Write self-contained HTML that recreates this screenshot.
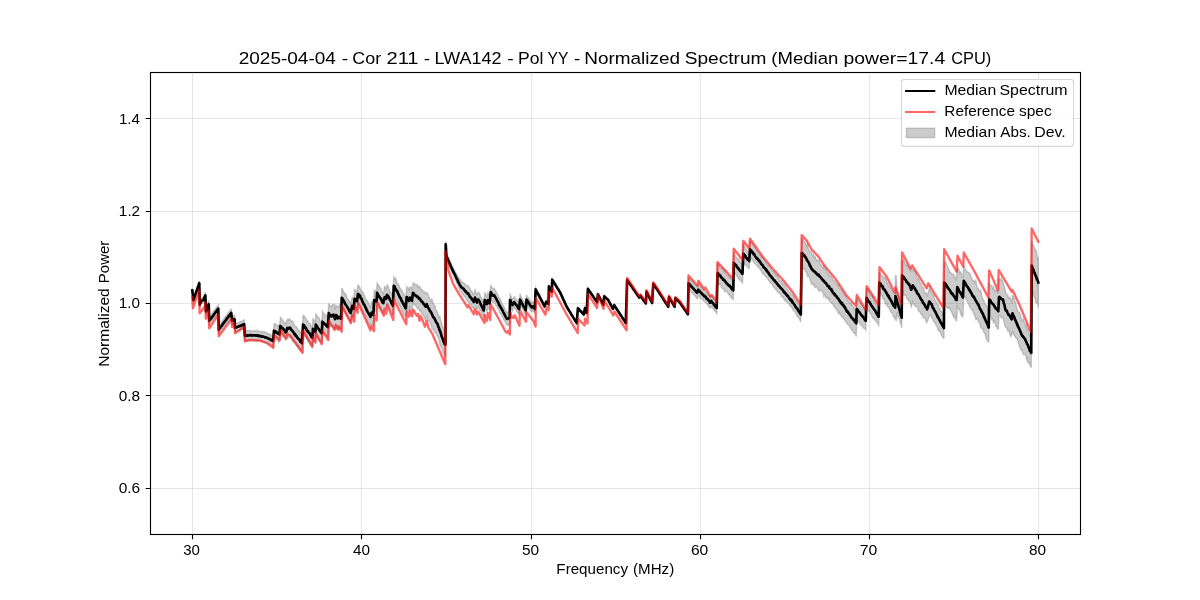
<!DOCTYPE html>
<html><head><meta charset="utf-8"><title>Normalized Spectrum</title>
<style>html,body{margin:0;padding:0;background:#fff}body{width:1200px;height:600px;overflow:hidden;font-family:"Liberation Sans",sans-serif}svg{display:block;will-change:transform}text{font-family:"Liberation Sans",sans-serif;fill:#000}</style></head><body>
<svg width="1200" height="600" viewBox="0 0 1200 600">
<rect width="1200" height="600" fill="#fff"/>
<path d="M192.5,72V534M361.5,72V534M531.5,72V534M700.5,72V534M869.5,72V534M1038.5,72V534" stroke="#b0b0b0" stroke-opacity="0.3" stroke-width="1.11" fill="none"/>
<path d="M150,118.5H1080M150,211.5H1080M150,303.5H1080M150,395.5H1080M150,488.5H1080" stroke="#b0b0b0" stroke-opacity="0.3" stroke-width="1.11" fill="none"/>
<clipPath id="c"><rect x="150" y="72" width="930" height="462"/></clipPath>
<g clip-path="url(#c)" fill="none" stroke-linejoin="round">
<path d="M192.3,288.43 L193.4,298.04 L194.24,295.36 L195.09,293.15 L195.93,290.48 L196.77,288.1 L197.61,285.78 L198.46,283.1 L199.3,280.9 L199.7,302.02 L200.35,300.54 L201,298.83 L201.77,298.16 L202.53,297.44 L203.3,297.35 L204,295.71 L204.7,293.88 L205.4,292.12 L205.9,308.28 L206.61,306.51 L207.32,304.2 L208.04,302.9 L208.75,300.46 L209.2,317.31 L210.03,316.25 L210.85,315.07 L211.68,313.71 L212.51,312.17 L213.34,311.58 L214.16,310.16 L214.99,309.02 L215.82,308.14 L216.65,306.9 L217.47,306.2 L218.3,305.1 L218.75,325.84 L219.53,324.41 L220.31,323.57 L221.09,322.62 L221.88,321.36 L222.66,320.42 L223.44,319.5 L224.22,318.06 L225,317.09 L225.78,316.41 L226.56,315.1 L227.34,314.1 L228.12,312.77 L228.91,311.85 L229.69,311.16 L230.47,309.56 L231.25,309.21 L232,316.57 L232.87,315.86 L233.73,315.91 L234.6,315.21 L235,324.37 L235.84,323.52 L236.67,323.1 L237.51,322.91 L238.35,322.32 L239.18,322.42 L240.02,321.77 L240.85,321.51 L241.69,321.17 L242.53,320.93 L243.36,320.27 L244.2,319.84 L244.8,331.02 L245.67,331.32 L246.53,330.66 L247.4,330.39 L248.27,330.71 L249.13,330.96 L250,330.14 L250.83,330.89 L251.67,330.89 L252.5,330.7 L253.33,331.07 L254.17,330.69 L255,330.49 L255.83,331.08 L256.67,331.07 L257.5,329.98 L258.33,331.38 L259.17,331.39 L260,331.11 L260.84,331.89 L261.68,331.75 L262.51,331.4 L263.35,332.04 L264.19,331.52 L265.02,332.09 L265.86,332.33 L266.7,333 L267.5,333.68 L268.3,333.54 L269.1,333.8 L269.9,334.08 L270.7,334.8 L271.5,335.68 L272.3,336.16 L273.1,334.91 L274,324.01 L274.77,323.49 L275.54,324.09 L276.31,325.09 L277.09,325.21 L277.86,326.17 L278.63,324.97 L279.4,327.59 L280.4,317.18 L281.2,317.94 L282,319.67 L282.8,319.88 L283.6,321.62 L284.4,322.54 L285.2,322.69 L286,323.79 L286.65,321.23 L287.3,319.43 L288.05,319.29 L288.8,320.13 L289.55,318.64 L290.3,320.15 L291.13,320.82 L291.96,320.65 L292.79,321.76 L293.61,322.81 L294.44,325.21 L295.27,326.33 L296.1,326.65 L296.93,327.34 L297.76,328.76 L298.59,330.84 L299.41,330.47 L300.24,331.83 L301.07,333.91 L301.9,334.72 L303.1,314.85 L303.88,316.88 L304.65,316.19 L305.43,318.24 L306.2,318.88 L306.98,321.27 L307.75,320.66 L308.52,322.84 L309.3,323.07 L310.07,323.56 L310.85,325.42 L311.62,326.58 L312.4,326.8 L312.9,318.76 L313.73,319.78 L314.57,320.68 L315.4,321.96 L315.8,313.94 L316.64,314.75 L317.49,316.47 L318.33,317.66 L319.17,317.71 L320.01,320.51 L320.86,322.77 L321.7,323.74 L322.5,311.22 L323.27,312.84 L324.04,313.2 L324.81,314.91 L325.59,315.45 L326.36,315.25 L327.13,316.48 L327.9,316.61 L328.75,303.17 L329.62,305.02 L330.5,306.73 L331.25,306.3 L332,305.47 L332.75,304.34 L333.5,304.49 L334.25,304.65 L335,309.46 L336,305.1 L336.75,306.48 L337.5,306.38 L338.5,307.26 L339.5,304.33 L340.38,306.01 L341.25,308.32 L341.7,288.6 L342.53,288.85 L343.35,291.79 L344.18,292.5 L345.01,294.48 L345.84,293.73 L346.66,296.56 L347.49,298.95 L348.32,299.18 L349.15,301.61 L349.97,301.63 L350.8,304.28 L352.1,297.33 L352.93,297.27 L353.75,299.59 L354.6,288.87 L355.43,290.96 L356.27,291.02 L357.1,291.65 L357.9,284.42 L358.6,286.4 L359.3,286.21 L360,288.07 L360.8,289.65 L361.6,290.48 L362.4,291.85 L363.2,292.81 L364,294.99 L364.8,296.2 L365.6,298.99 L366.4,300.05 L367.2,300.75 L368,301.64 L368.8,303.48 L369.6,305.21 L370.4,306.99 L371.05,305.71 L371.7,300.77 L372.5,303.37 L373.3,305.23 L374.2,290.37 L374.97,290.26 L375.73,291.41 L376.5,291.17 L377.1,283.12 L377.88,283.9 L378.65,286.33 L379.43,286.02 L380.2,288.84 L380.98,288.52 L381.75,290.98 L382.53,292.22 L383.3,293.77 L383.95,290.42 L384.6,285.83 L385.4,288 L386.2,288.53 L387.1,284.86 L387.93,285.73 L388.76,288.13 L389.59,290.35 L390.41,292.02 L391.24,292.82 L392.07,295.3 L392.9,296.56 L393.75,276.6 L394.49,277.86 L395.23,279.59 L395.96,278.6 L396.7,281.3 L397.53,284.03 L398.35,283.95 L399.18,285.73 L400.01,288.34 L400.84,289.13 L401.66,290.03 L402.49,291.94 L403.32,293.23 L404.15,294.42 L404.97,297.31 L405.8,298.9 L406.7,286.58 L407.53,287.71 L408.37,288.04 L409.2,289.94 L410,286.89 L411,287.28 L412,290.24 L412.9,283.72 L413.66,282.99 L414.42,283.49 L415.18,284.53 L415.94,285.1 L416.7,285.02 L417.52,284.59 L418.34,287.57 L419.16,286.86 L419.98,286.5 L420.8,289.61 L421.63,289.24 L422.47,290.27 L423.3,291.67 L424.13,291.39 L424.97,292.82 L425.8,293.64 L426.7,292.5 L427.9,293.8 L428.7,296.15 L429.5,298.18 L430.3,299.6 L431.1,301.2 L431.9,299.09 L432.7,302.35 L433.5,303.61 L434.3,306.67 L435.1,305.96 L435.9,310.09 L436.7,310.4 L437.5,312.65 L438.29,314.52 L439.08,317.59 L439.87,316.39 L440.66,319.95 L441.44,322.33 L442.23,325.91 L443.02,326.73 L443.81,330.54 L444.6,331.65 L445.5,333.91 L445.7,241.32 L446.4,252.71 L447.16,254.83 L447.92,256.53 L448.69,258.09 L449.45,260 L450.21,261.6 L450.98,262.92 L451.74,264.67 L452.5,266.43 L453.33,268.21 L454.17,269.68 L455,271.32 L455.83,273.05 L456.67,273.88 L457.5,275.8 L458.33,277.22 L459.17,278.54 L460,279.33 L460.83,281.03 L461.67,281.87 L462.5,281.74 L463.33,282.75 L464.17,283.51 L465,283.87 L465.82,285.22 L466.65,285.42 L467.48,285.42 L468.3,285.88 L469.08,287.36 L469.86,288.22 L470.64,290.36 L471.41,290.96 L472.19,291.78 L472.97,293.36 L473.75,294.51 L474.38,293.08 L475,288.98 L476,292.87 L477,294.67 L477.65,293.89 L478.3,292.07 L479.08,292.88 L479.86,293.75 L480.64,297.45 L481.41,297.82 L482.19,299.02 L482.97,301.78 L483.75,302.77 L484.8,292.2 L485.53,293.98 L486.27,295.67 L487,296.49 L487.9,292.72 L488.75,294.66 L489.6,296.91 L490.7,285.47 L491.43,286.16 L492.17,288.15 L492.9,288.73 L493.55,288.26 L494.2,288.16 L495.02,289.95 L495.84,290.46 L496.66,293.26 L497.48,294 L498.3,295.7 L499.12,298.15 L499.94,298.81 L500.76,300.49 L501.58,302.62 L502.4,304.32 L503.22,305.61 L504.04,307.02 L504.86,309.22 L505.68,310.4 L506.5,311.87 L507.25,312.57 L508,312.36 L508.85,311.99 L509.7,312.13 L510,294.4 L510.83,295.86 L511.67,297.9 L512.5,299.12 L513.35,298.32 L514.2,296.86 L515.03,297.52 L515.87,299.51 L516.7,299.85 L517.53,301.28 L518.37,302.32 L519.2,304.32 L520,293.64 L520.83,295.92 L521.66,297.81 L522.49,299.03 L523.31,301.11 L524.14,301.49 L524.97,303.67 L525.8,305.83 L526.5,294.69 L527.24,296.56 L527.99,297.45 L528.73,298.8 L529.47,298.83 L530.21,300.97 L530.96,301.33 L531.7,303.14 L532.35,302.36 L533,301.95 L533.95,303.81 L534.9,304.81 L535.6,287.41 L536.42,288.96 L537.24,290.53 L538.05,292.09 L538.87,293.65 L539.69,295.22 L540.51,296.78 L541.33,298.34 L542.15,299.91 L542.96,301.47 L543.78,303.03 L544.6,304.6 L545.42,302.35 L546.25,300.1 L546.88,300.74 L547.5,301.39 L548.5,302.41 L548.9,284.75 L549.65,286.46 L550.4,288.19 L551.15,289.11 L551.9,290.02 L552.2,278.25 L552.98,279.52 L553.76,280.8 L554.54,282.07 L555.32,283.35 L556.1,284.62 L556.88,285.9 L557.66,287.17 L558.44,288.45 L559.22,289.72 L560,291 L560.84,292.82 L561.67,294.64 L562.51,296.46 L563.35,298.29 L564.19,300.11 L565.03,301.93 L565.86,303.75 L566.7,305.57 L567.53,306.93 L568.37,308.28 L569.2,309.64 L570.03,311 L570.87,312.35 L571.7,313.71 L572.53,315.07 L573.37,316.42 L574.2,317.78 L575.03,319.14 L575.87,320.49 L576.7,321.85 L577.9,307.25 L578.74,308.09 L579.57,308.93 L580.41,309.77 L581.24,310.61 L582.08,311.44 L582.91,312.28 L583.75,313.12 L584.38,310 L585,306.87 L585.85,309.38 L586.7,311.88 L587.9,287.68 L588.67,288.8 L589.43,289.92 L590.2,291.04 L590.97,292.16 L591.73,293.28 L592.5,294.4 L593.27,295.52 L594.03,296.63 L594.8,297.75 L595.57,298.87 L596.33,299.99 L597.1,301.11 L597.9,293.16 L598.67,294.66 L599.44,296.15 L600.21,297.65 L600.99,299.14 L601.76,300.64 L602.53,302.13 L603.3,303.63 L604.2,295.23 L605.02,295.99 L605.84,296.76 L606.66,297.52 L607.48,298.28 L608.3,299.04 L609.07,300.5 L609.83,301.95 L610.6,303.4 L611.37,304.85 L612.13,306.31 L612.9,307.76 L613.55,305.91 L614.2,304.06 L615.03,305.34 L615.86,306.62 L616.69,307.9 L617.51,309.19 L618.34,310.47 L619.17,311.75 L620,313.03 L620.83,314.31 L621.66,315.59 L622.49,316.87 L623.31,318.15 L624.14,319.43 L624.97,320.72 L625.8,322 L627.1,279 L627.91,280.17 L628.71,281.33 L629.52,282.5 L630.33,283.67 L631.13,284.83 L631.94,286 L632.75,287.17 L633.55,288.33 L634.36,289.5 L635.17,290.67 L635.97,291.83 L636.78,293 L637.59,294.17 L638.39,295.33 L639.2,296.5 L640.4,294.8 L641.17,295.87 L641.94,296.94 L642.71,298.01 L643.49,299.09 L644.26,300.16 L645.03,301.23 L645.8,302.3 L646.5,290.7 L647.3,292.3 L648.1,293.9 L648.9,295.5 L649.7,297.1 L650.5,298.7 L651.3,300.3 L652.1,301.9 L653.3,282.75 L654.14,284 L654.98,285.25 L655.82,286.5 L656.66,287.75 L657.5,289 L658.33,290.28 L659.16,291.57 L659.99,292.85 L660.82,294.14 L661.65,295.42 L662.48,296.71 L663.32,297.99 L664.15,299.28 L664.98,300.56 L665.81,301.85 L666.64,303.13 L667.47,304.42 L668.3,305.7 L669,296.1 L669.8,297.47 L670.6,298.84 L671.4,300.21 L672.2,301.59 L673,302.96 L673.8,304.33 L674.6,305.7 L675.4,297.3 L676.24,298.06 L677.08,298.82 L677.92,299.58 L678.76,300.34 L679.6,301.1 L680.43,302.31 L681.26,303.52 L682.09,304.73 L682.92,305.94 L683.75,307.15 L684.58,308.36 L685.41,309.57 L686.24,310.78 L687.07,311.99 L687.9,313.2 L688.5,278.06 L689.32,278.87 L690.14,280.09 L690.95,279.96 L691.77,280.14 L692.59,282.46 L693.41,282.53 L694.23,284.03 L695.05,284.86 L695.86,285.18 L696.68,286.19 L697.5,287.04 L698.3,284.38 L699.13,285.53 L699.97,285.2 L700.8,287.33 L701.63,287.45 L702.47,289.18 L703.3,289.69 L704.15,289.68 L705,290.3 L705.83,292.13 L706.67,292.44 L707.5,293.94 L708.33,294.5 L709.17,295.34 L710,295.76 L710.62,295.8 L711.25,295.68 L712.03,296.44 L712.81,297.93 L713.59,298.98 L714.36,299.46 L715.14,300.61 L715.92,301.44 L716.7,302.06 L717.5,262.33 L718.29,265.18 L719.08,265.36 L719.87,267.64 L720.66,268.33 L721.45,267.62 L722.24,268.53 L723.03,269.48 L723.82,271.42 L724.61,269.9 L725.4,272.47 L726.19,274 L726.98,274.97 L727.77,275.6 L728.56,275.7 L729.35,277.72 L730.14,277.32 L730.93,278.84 L731.72,278.77 L732.51,279.85 L733.3,281.19 L733.75,252.2 L734.55,255.18 L735.34,255.69 L736.14,256.85 L736.93,257.82 L737.73,258.7 L738.52,258.72 L739.32,260.63 L740.11,260.92 L740.91,263.25 L741.7,263.43 L742.5,264.44 L743.3,243.37 L744.14,246.54 L744.99,246.71 L745.83,248.99 L746.67,249.8 L747.51,251.48 L748.36,252.18 L749.2,254.05 L750,241.25 L750.8,242.31 L751.61,243.14 L752.41,243.98 L753.21,245.27 L754.02,246.35 L754.82,246.63 L755.62,248.63 L756.43,250.24 L757.23,250.67 L758.03,252.62 L758.84,253.23 L759.64,254.85 L760.44,255.03 L761.25,257.07 L762.05,256.21 L762.86,257.14 L763.66,259.41 L764.46,260.42 L765.27,261.77 L766.07,262.81 L766.87,263.83 L767.68,265.49 L768.48,265.87 L769.28,266.53 L770.09,267.16 L770.89,268.19 L771.69,270.58 L772.5,271.68 L773.3,271.3 L774.14,272.11 L774.97,273.81 L775.81,274.28 L776.65,276.12 L777.49,275.65 L778.33,277.61 L779.16,278.78 L780,280.51 L780.78,281.05 L781.56,280.6 L782.34,282.55 L783.12,284.5 L783.91,283.68 L784.69,285.27 L785.47,285.51 L786.25,287.71 L787.03,289.06 L787.81,289.61 L788.59,291.2 L789.38,291.98 L790.16,292.24 L790.94,293.87 L791.72,294.9 L792.5,295.15 L793.33,296.11 L794.16,297.76 L794.99,299.66 L795.82,300.23 L796.65,301.27 L797.48,302.29 L798.31,304.38 L799.14,304.76 L799.97,305.63 L800.8,307.58 L801.7,239.06 L802.53,239.96 L803.35,239.76 L804.17,241.23 L805,241.98 L805.84,243.65 L806.68,246.11 L807.52,244.28 L808.36,249.26 L809.2,250.35 L810.03,251.56 L810.87,252.03 L811.7,253.47 L812.53,255.75 L813.35,254.55 L814.18,257.66 L815.01,256.3 L815.84,258.57 L816.66,260.6 L817.49,259.92 L818.32,260.59 L819.15,260.69 L819.97,263.52 L820.8,264.98 L821.57,264.99 L822.33,266.93 L823.1,268.05 L823.87,264.97 L824.63,269.55 L825.4,269.74 L826.17,268.39 L826.93,272.27 L827.7,273.94 L828.47,273.07 L829.23,276.04 L830,275.19 L830.79,276.22 L831.58,277.03 L832.37,278.04 L833.16,280.3 L833.94,280.42 L834.73,281.4 L835.52,282.82 L836.31,283.26 L837.1,285.59 L837.89,284.86 L838.68,284.59 L839.47,288.67 L840.26,288.48 L841.04,289.5 L841.83,290.18 L842.62,292.81 L843.41,292.85 L844.2,293.79 L845.03,295.53 L845.87,296.21 L846.7,298.11 L847.53,299.02 L848.37,301.17 L849.2,302.76 L849.99,302.1 L850.78,304.71 L851.57,303.62 L852.36,305.42 L853.14,306.27 L853.93,307.27 L854.72,309.86 L855.51,310.13 L856.3,310 L856.7,299.17 L857.53,298.53 L858.35,301.37 L859.18,301.27 L860.01,302.14 L860.84,303.74 L861.66,304.9 L862.49,305.92 L863.32,306.96 L864.15,308.99 L864.97,310.73 L865.8,311.35 L866.5,288.37 L867.32,288.49 L868.13,290.03 L868.95,292.92 L869.77,293.45 L870.58,294.93 L871.4,295.88 L872.22,295.45 L873.03,296.85 L873.85,300.81 L874.67,300.71 L875.48,303.42 L876.3,303.84 L877.12,305.7 L877.93,306.72 L878.75,307.81 L879.3,272.74 L880.11,272.7 L880.93,274.99 L881.74,276.11 L882.56,275.84 L883.37,277.04 L884.19,278.58 L885,277.23 L885.83,278.52 L886.66,282.66 L887.49,282.4 L888.32,284.88 L889.15,286.51 L889.98,287.13 L890.81,287.92 L891.64,290.15 L892.47,291.91 L893.3,292.01 L894.25,294.74 L895.2,294.89 L895.5,275.65 L896.27,276.23 L897.05,290.7 L897.83,292.63 L898.6,295.61 L899.38,299.76 L900.15,301.08 L900.93,305.73 L901.7,307.44 L902.1,260.65 L902.89,261.65 L903.68,259.79 L904.47,261.58 L905.26,264.3 L906.05,265.57 L906.84,263.67 L907.63,266.58 L908.42,266.58 L909.21,267.76 L910,270.37 L910.62,271.3 L911.25,271.49 L912.08,270.72 L912.9,269.34 L913.69,269.84 L914.48,271.16 L915.27,272.4 L916.06,274.56 L916.84,277.06 L917.63,279.2 L918.42,278.58 L919.21,280.53 L920,282.63 L920.79,283.52 L921.58,284.85 L922.37,287.75 L923.16,287.53 L923.94,289.83 L924.73,292.57 L925.52,293.7 L926.31,293.04 L927.1,296.79 L927.93,293.06 L928.77,290.6 L929.6,287.22 L930.39,289.91 L931.19,292.02 L931.98,293.13 L932.78,295.41 L933.57,294.88 L934.37,298.19 L935.16,300.42 L935.96,301 L936.75,302.75 L937.54,304.65 L938.34,304.51 L939.13,307.83 L939.93,309 L940.72,311.21 L941.52,311.21 L942.31,313.59 L943.11,315.73 L943.9,316.99 L944.3,261.23 L945.07,263.74 L945.85,262.13 L946.62,264.5 L947.4,265.54 L948.17,268.55 L948.95,269.46 L949.73,272.25 L950.5,272.25 L951.27,273.28 L952.05,273.89 L952.83,274.08 L953.6,274.13 L954.38,278.69 L955.15,276.44 L955.93,280.58 L956.7,277.37 L957.3,269.31 L958.1,268.27 L958.9,269.59 L959.7,272.94 L960.5,271.64 L961.3,273.31 L962.1,277.7 L962.9,277.47 L963.75,266.24 L964.55,267.09 L965.36,269.9 L966.16,270.07 L966.96,271.46 L967.77,272.23 L968.57,272.51 L969.38,272.82 L970.18,274 L970.98,276.92 L971.79,277.88 L972.59,280.72 L973.39,280.36 L974.2,280.83 L975,282.92 L975.83,280.53 L976.66,285.16 L977.49,288.72 L978.31,288.12 L979.14,290.83 L979.97,291.8 L980.8,290.17 L981.59,294.57 L982.39,297.66 L983.18,299.46 L983.98,300.83 L984.77,303.7 L985.57,304.91 L986.37,305.54 L987.16,307.42 L987.96,310.3 L988.75,312.14 L989.2,282.65 L990.03,284.7 L990.85,285.77 L991.68,285.63 L992.51,288.55 L993.34,286.7 L994.16,290.47 L994.99,291.59 L995.82,289.43 L996.65,291.29 L997.47,291.37 L998.3,293.39 L999,278.91 L999.78,279.47 L1000.56,280.02 L1001.34,278.08 L1002.12,280.62 L1002.9,281.14 L1003.73,284.75 L1004.57,287.37 L1005.4,291.48 L1006.19,293.64 L1006.98,294.84 L1007.76,294.95 L1008.55,298.26 L1009.34,297.46 L1010.12,298.11 L1010.91,298.98 L1011.7,303.4 L1012.5,295.55 L1013.33,296.3 L1014.17,298.3 L1015,301.66 L1015.84,303.4 L1016.67,308.02 L1017.51,309.71 L1018.35,311.92 L1019.19,311.9 L1020.03,314.04 L1020.86,316.1 L1021.7,320.4 L1022.53,319.45 L1023.35,318.68 L1024.17,322.08 L1025,323.78 L1025.78,326.24 L1026.56,324.81 L1027.34,330.62 L1028.12,328.21 L1028.91,333.37 L1029.69,335.62 L1030.47,334.74 L1031.25,338.64 L1031.7,240.96 L1032.53,244.61 L1033.35,245.76 L1034.17,246.68 L1035,250.11 L1035.83,249.62 L1036.65,253.7 L1037.47,258.38 L1038.3,257.48 L1038.3,307.52 L1037.47,302.39 L1036.65,302.85 L1035.83,302.7 L1035,297.99 L1034.17,297.2 L1033.35,293.89 L1032.53,290.81 L1031.7,290.24 L1031.25,367.16 L1030.47,366.76 L1029.69,363.33 L1028.91,362.16 L1028.12,362.99 L1027.34,358.06 L1026.56,359.52 L1025.78,355.58 L1025,354.62 L1024.17,354.22 L1023.35,354.57 L1022.53,352.65 L1021.7,349.6 L1020.86,349.95 L1020.03,348.06 L1019.19,345.26 L1018.35,342.28 L1017.51,340.54 L1016.67,338.28 L1015.84,337.94 L1015,336.74 L1014.17,335.14 L1013.33,334.23 L1012.5,331.05 L1011.7,335 L1010.91,336.92 L1010.12,335.29 L1009.34,332.39 L1008.55,330.14 L1007.76,330.95 L1006.98,328.56 L1006.19,327.26 L1005.4,326.92 L1004.57,324.63 L1003.73,320.85 L1002.9,318.06 L1002.12,316.53 L1001.34,318.07 L1000.56,316.18 L999.78,315.73 L999,315.29 L998.3,329.11 L997.47,328.94 L996.65,326.83 L995.82,326.5 L994.99,322.15 L994.16,321.08 L993.34,322.65 L992.51,318.61 L991.68,319.34 L990.85,317.02 L990.03,315.89 L989.2,315.75 L988.75,342.86 L987.96,341.1 L987.16,340.38 L986.37,338.66 L985.57,335.69 L984.77,333.3 L983.98,332.57 L983.18,330.34 L982.39,328.54 L981.59,328.03 L980.8,327.86 L979.97,324.26 L979.14,322.28 L978.31,322.05 L977.49,318.51 L976.66,319.13 L975.83,319.82 L975,315.48 L974.2,314.94 L973.39,312.78 L972.59,309.79 L971.79,310 L970.98,308.34 L970.18,307.69 L969.38,306.26 L968.57,303.95 L967.77,302.51 L966.96,300.66 L966.16,299.42 L965.36,296.95 L964.55,297.14 L963.75,295.36 L962.9,317.53 L962.1,314.33 L961.3,315.75 L960.5,313.27 L959.7,310.18 L958.9,309.37 L958.1,308.9 L957.3,304.89 L956.7,321.45 L955.93,317.24 L955.15,319.18 L954.38,314.75 L953.6,317.12 L952.83,314.98 L952.05,312.99 L951.27,311.41 L950.5,310.25 L949.73,308.06 L948.95,308.67 L948.17,307.39 L947.4,308.21 L946.62,307.06 L945.85,306.04 L945.07,303.45 L944.3,303.77 L943.9,339.01 L943.11,337.3 L942.31,336.47 L941.52,335.88 L940.72,332.91 L939.93,332.14 L939.13,330.34 L938.34,330.68 L937.54,327.57 L936.75,326.5 L935.96,325.28 L935.16,322.88 L934.37,322.14 L933.57,321.72 L932.78,318.98 L931.98,318.29 L931.19,316.43 L930.39,315.56 L929.6,315.28 L928.77,317.2 L927.93,320.04 L927.1,321.61 L926.31,322.72 L925.52,319.42 L924.73,317.9 L923.94,317.99 L923.16,317.65 L922.37,314.78 L921.58,315.04 L920.79,313.72 L920,311.97 L919.21,311.43 L918.42,310.73 L917.63,307.47 L916.84,306.96 L916.06,306.82 L915.27,306.33 L914.48,304.93 L913.69,303.6 L912.9,301.46 L912.08,304.18 L911.25,307.51 L910.62,304 L910,301.23 L909.21,301.76 L908.42,300.86 L907.63,298.78 L906.84,298.63 L906.05,295.63 L905.26,294.82 L904.47,295.46 L903.68,295.17 L902.89,291.23 L902.1,290.15 L901.7,327.96 L900.93,324.25 L900.15,322.88 L899.38,319.37 L898.6,317.45 L897.83,315.65 L897.05,312.15 L896.27,321.2 L895.5,316.35 L895.2,320.11 L894.25,316.96 L893.3,316.39 L892.47,313.73 L891.64,312.73 L890.81,312.2 L889.98,310.23 L889.15,308.09 L888.32,306.96 L887.49,306.68 L886.66,303.66 L885.83,304.38 L885,302.91 L884.19,299.97 L883.37,299.25 L882.56,298.19 L881.74,295.66 L880.93,294.52 L880.11,294.56 L879.3,292.26 L878.75,325.59 L877.93,324.18 L877.12,322.68 L876.3,322.04 L875.48,319.95 L874.67,320.15 L873.85,317.55 L873.03,318.44 L872.22,317.33 L871.4,314.96 L870.58,313.4 L869.77,312.37 L868.95,310.4 L868.13,310.79 L867.32,309.81 L866.5,307.43 L865.8,330.25 L864.97,328.68 L864.15,328.23 L863.32,328.07 L862.49,326.31 L861.66,325.75 L860.84,324.72 L860.01,324.12 L859.18,322.19 L858.35,320.51 L857.53,321.16 L856.7,318.33 L856.3,336.6 L855.51,334.45 L854.72,332.69 L853.93,333.26 L853.14,332.24 L852.36,330.32 L851.57,330.1 L850.78,327.74 L849.99,327.57 L849.2,325.64 L848.37,324.73 L847.53,324.38 L846.7,322.79 L845.87,322.19 L845.03,320.37 L844.2,319.61 L843.41,318.5 L842.62,316.5 L841.83,317.08 L841.04,315.73 L840.26,314.7 L839.47,312.47 L838.68,313.74 L837.89,312.19 L837.1,309.41 L836.31,309.7 L835.52,308.09 L834.73,307.46 L833.94,306.4 L833.16,304.48 L832.37,303.95 L831.58,302.91 L830.79,302.43 L830,301.41 L829.23,298.76 L828.47,299.93 L827.7,297.26 L826.93,297.13 L826.17,298.43 L825.4,296.06 L824.63,294.45 L823.87,296.43 L823.1,292.35 L822.33,291.67 L821.57,291.81 L820.8,290.02 L819.97,289.9 L819.15,291.15 L818.32,289.66 L817.49,288.75 L816.66,286.5 L815.84,286.94 L815.01,287.63 L814.18,284.68 L813.35,285.32 L812.53,283.43 L811.7,284.13 L810.87,282.23 L810.03,279.37 L809.2,277.25 L808.36,275.34 L807.52,276.45 L806.68,272.49 L805.84,271.95 L805,270.62 L804.17,268.89 L803.35,268.71 L802.53,267.69 L801.7,266.94 L800.8,321.42 L799.97,320.48 L799.14,318.85 L798.31,317.12 L797.48,316.71 L796.65,315.23 L795.82,313.77 L794.99,311.84 L794.16,311.24 L793.33,310.39 L792.5,308.85 L791.72,307.23 L790.94,306.38 L790.16,306.14 L789.38,304.52 L788.59,303.43 L787.81,303.14 L787.03,301.81 L786.25,301.29 L785.47,301.2 L784.69,299.98 L783.91,299.28 L783.12,297 L782.34,297.07 L781.56,296.74 L780.78,294.82 L780,293.49 L779.16,293.27 L778.33,292.49 L777.49,292.08 L776.65,290.08 L775.81,289.55 L774.97,288.49 L774.14,287.81 L773.3,286.68 L772.5,284.65 L771.69,283.68 L770.89,283.57 L770.09,282.53 L769.28,281.52 L768.48,280.12 L767.68,278.43 L766.87,278.02 L766.07,276.97 L765.27,275.94 L764.46,275.22 L763.66,274.16 L762.86,273.92 L762.05,272.79 L761.25,270.29 L760.44,270.27 L759.64,268.37 L758.84,267.93 L758.03,266.47 L757.23,266.35 L756.43,264.71 L755.62,264.25 L754.82,263.74 L754.02,262.39 L753.21,261.41 L752.41,260.18 L751.61,259.4 L750.8,257.71 L750,257.15 L749.2,268.45 L748.36,268.18 L747.51,266.74 L746.67,266.27 L745.83,264.94 L744.99,265.08 L744.14,263.1 L743.3,263.57 L742.5,283.06 L741.7,282.09 L740.91,280.3 L740.11,280.66 L739.32,278.98 L738.52,278.92 L737.73,276.96 L736.93,275.87 L736.14,274.86 L735.34,274.05 L734.55,272.59 L733.75,273.04 L733.3,299.41 L732.51,298.49 L731.72,298.43 L730.93,296.66 L730.14,296.48 L729.35,294.38 L728.56,294.7 L727.77,293.1 L726.98,292.03 L726.19,291.3 L725.4,291.13 L724.61,291.45 L723.82,288.78 L723.03,289.02 L722.24,288.27 L721.45,287.48 L720.66,285.07 L719.87,284.06 L719.08,284.64 L718.29,283.12 L717.5,283.73 L716.7,313.74 L715.92,312.46 L715.14,311.39 L714.36,310.64 L713.59,309.22 L712.81,308.37 L712.03,307.96 L711.25,306.82 L710.62,307.55 L710,308.11 L709.17,306.89 L708.33,305.77 L707.5,304.36 L706.67,303.9 L705.83,302.24 L705,301.77 L704.15,301.52 L703.3,300.31 L702.47,299.15 L701.63,298.89 L700.8,297.67 L699.97,297.81 L699.13,296.13 L698.3,295.62 L697.5,298.76 L696.68,297.86 L695.86,297.13 L695.05,295.7 L694.23,294.78 L693.41,294.54 L692.59,292.87 L691.77,293.11 L690.95,291.88 L690.14,290 L689.32,289.47 L688.5,288.54 L687.9,315.2 L687.07,313.99 L686.24,312.78 L685.41,311.57 L684.58,310.36 L683.75,309.15 L682.92,307.94 L682.09,306.73 L681.26,305.52 L680.43,304.31 L679.6,303.1 L678.76,302.34 L677.92,301.58 L677.08,300.82 L676.24,300.06 L675.4,299.3 L674.6,307.7 L673.8,306.33 L673,304.96 L672.2,303.59 L671.4,302.21 L670.6,300.84 L669.8,299.47 L669,298.1 L668.3,307.7 L667.47,306.42 L666.64,305.13 L665.81,303.85 L664.98,302.56 L664.15,301.28 L663.32,299.99 L662.48,298.71 L661.65,297.42 L660.82,296.14 L659.99,294.85 L659.16,293.57 L658.33,292.28 L657.5,291 L656.66,289.75 L655.82,288.5 L654.98,287.25 L654.14,286 L653.3,284.75 L652.1,303.9 L651.3,302.3 L650.5,300.7 L649.7,299.1 L648.9,297.5 L648.1,295.9 L647.3,294.3 L646.5,292.7 L645.8,304.3 L645.03,303.23 L644.26,302.16 L643.49,301.09 L642.71,300.01 L641.94,298.94 L641.17,297.87 L640.4,296.8 L639.2,298.5 L638.39,297.33 L637.59,296.17 L636.78,295 L635.97,293.83 L635.17,292.67 L634.36,291.5 L633.55,290.33 L632.75,289.17 L631.94,288 L631.13,286.83 L630.33,285.67 L629.52,284.5 L628.71,283.33 L627.91,282.17 L627.1,281 L625.8,324 L624.97,322.73 L624.14,321.45 L623.31,320.18 L622.49,318.9 L621.66,317.62 L620.83,316.35 L620,315.07 L619.17,313.79 L618.34,312.52 L617.51,311.24 L616.69,309.97 L615.86,308.69 L615.03,307.41 L614.2,306.14 L613.55,307.99 L612.9,309.84 L612.13,308.39 L611.37,306.95 L610.6,305.5 L609.83,304.05 L609.07,302.6 L608.3,301.16 L607.48,300.4 L606.66,299.64 L605.84,298.88 L605.02,298.13 L604.2,297.37 L603.3,305.77 L602.53,304.28 L601.76,302.79 L600.99,301.3 L600.21,299.81 L599.44,298.32 L598.67,296.83 L597.9,295.34 L597.1,303.29 L596.33,302.17 L595.57,301.06 L594.8,299.95 L594.03,298.83 L593.27,297.72 L592.5,296.6 L591.73,295.49 L590.97,294.37 L590.2,293.26 L589.43,292.15 L588.67,291.03 L587.9,289.92 L586.7,314.12 L585.85,311.62 L585,309.13 L584.38,312.25 L583.75,315.38 L582.91,314.55 L582.08,313.71 L581.24,312.88 L580.41,312.05 L579.57,311.21 L578.74,310.38 L577.9,309.55 L576.7,324.15 L575.87,322.8 L575.03,321.45 L574.2,320.1 L573.37,318.74 L572.53,317.39 L571.7,316.04 L570.87,314.69 L570.03,313.34 L569.2,311.99 L568.37,310.63 L567.53,309.28 L566.7,307.93 L565.86,306.11 L565.03,304.3 L564.19,302.48 L563.35,300.67 L562.51,298.85 L561.67,297.03 L560.84,295.22 L560,293.4 L559.22,292.18 L558.44,290.95 L557.66,289.73 L556.88,288.5 L556.1,287.28 L555.32,286.05 L554.54,284.83 L553.76,283.6 L552.98,282.38 L552.2,281.15 L551.9,292.98 L551.15,292.09 L550.4,291.21 L549.65,289.54 L548.9,287.85 L548.5,305.59 L547.5,304.61 L546.88,304.01 L546.25,303.4 L545.42,305.7 L544.6,308 L543.78,306.5 L542.96,304.99 L542.15,303.48 L541.33,301.97 L540.51,300.46 L539.69,298.95 L538.87,297.44 L538.05,295.93 L537.24,294.42 L536.42,292.91 L535.6,291.39 L534.9,313.59 L533.95,311.69 L533,310.65 L532.35,311.44 L531.7,311.6 L530.96,311.16 L530.21,309.52 L529.47,309.14 L528.73,307.18 L527.99,306.26 L527.24,304.89 L526.5,304.51 L525.8,314.97 L524.97,314.05 L524.14,312.85 L523.31,310.43 L522.49,309.13 L521.66,307.56 L520.83,306.37 L520,305.26 L519.2,314.08 L518.37,313.71 L517.53,312.39 L516.7,311.45 L515.87,309.42 L515.03,308.72 L514.2,307.34 L513.35,308.78 L512.5,310.88 L511.67,308.76 L510.83,307.47 L510,305.6 L509.7,323.27 L508.85,324.61 L508,325.44 L507.25,324.63 L506.5,324.73 L505.68,323.09 L504.86,321.16 L504.04,319.89 L503.22,318.56 L502.4,316.75 L501.58,315.34 L500.76,313.98 L499.94,312.93 L499.12,310.49 L498.3,309.83 L497.48,308.43 L496.66,306.06 L495.84,305.35 L495.02,303.16 L494.2,301.84 L493.55,302.13 L492.9,302.87 L492.17,300.98 L491.43,300.51 L490.7,298.73 L489.6,309.69 L488.75,308.64 L487.9,307.28 L487,311.91 L486.27,309.93 L485.53,308.39 L484.8,307.8 L483.75,318.03 L482.97,315.82 L482.19,314.95 L481.41,313.38 L480.64,310.55 L479.86,310.62 L479.08,308.72 L478.3,306.33 L477.65,307.81 L477,310.33 L476,307.53 L475,306.38 L474.38,306.52 L473.75,308.89 L472.97,307.89 L472.19,307.34 L471.41,306.01 L470.64,304.47 L469.86,304.01 L469.08,302.74 L468.3,302.07 L467.48,301.28 L466.65,299.58 L465.82,298.08 L465,297.33 L464.17,296.29 L463.33,295.25 L462.5,294.46 L461.67,292.53 L460.83,291.57 L460,291.17 L459.17,288.55 L458.33,286.73 L457.5,284.73 L456.67,282.99 L455.83,280.64 L455,278.94 L454.17,277.16 L453.33,275.21 L452.5,273.57 L451.74,271.83 L450.98,270.08 L450.21,267.9 L449.45,266 L448.69,264.41 L447.92,262.47 L447.16,260.67 L446.4,259.29 L445.7,247.08 L445.5,355.29 L444.6,356.05 L443.81,353.41 L443.02,352.78 L442.23,349.16 L441.44,348.29 L440.66,346.22 L439.87,344.61 L439.08,339.7 L438.29,338.33 L437.5,335.75 L436.7,335.15 L435.9,332.61 L435.1,333.14 L434.3,330.33 L433.5,330.54 L432.7,328.95 L431.9,328.61 L431.1,324.4 L430.3,323.15 L429.5,321.72 L428.7,320.9 L427.9,320.4 L426.7,315 L425.8,320.56 L424.97,319.01 L424.13,317.36 L423.3,315.43 L422.47,314.47 L421.63,313.12 L420.8,310.39 L419.98,311.32 L419.16,310.14 L418.34,307.93 L417.52,308.76 L416.7,307.48 L415.94,306.06 L415.18,305.29 L414.42,304.99 L413.66,304.15 L412.9,302.08 L412,311.36 L411,310.01 L410,307.31 L409.2,311.66 L408.37,310.47 L407.53,308.96 L406.7,307.62 L405.8,317.7 L404.97,316.11 L404.15,315.22 L403.32,313.82 L402.49,311.93 L401.66,310.66 L400.84,308.38 L400.01,305.99 L399.18,305.42 L398.35,304.01 L397.53,300.75 L396.7,300.3 L395.96,299.96 L395.23,297.01 L394.49,296.24 L393.75,295 L392.9,315.04 L392.07,312.99 L391.24,311.59 L390.41,309.64 L389.59,307.99 L388.76,306.9 L387.93,305.99 L387.1,303.54 L386.2,308.47 L385.4,307.6 L384.6,308.37 L383.95,309.98 L383.3,312.83 L382.53,311.78 L381.75,310.42 L380.98,310.28 L380.2,307.36 L379.43,306.98 L378.65,304.67 L377.88,303.9 L377.1,302.68 L376.5,311.83 L375.73,310.59 L374.97,310.74 L374.2,309.63 L373.3,324.77 L372.5,324.13 L371.7,323.65 L371.05,323.89 L370.4,327.21 L369.6,325.24 L368.8,323.8 L368,322.48 L367.2,320.78 L366.4,318.3 L365.6,316.19 L364.8,315.25 L364,313.85 L363.2,312.31 L362.4,310.66 L361.6,308.85 L360.8,306.52 L360,304.93 L359.3,305.13 L358.6,303.27 L357.9,303.58 L357.1,310.3 L356.27,309.81 L355.43,308.21 L354.6,308.63 L353.75,317.91 L352.93,316.72 L352.1,314.27 L350.8,321.52 L349.97,321.44 L349.15,318.73 L348.32,318.43 L347.49,315.95 L346.66,315.6 L345.84,315.14 L345.01,312.23 L344.18,311.48 L343.35,309.46 L342.53,309.68 L341.7,307.2 L341.25,329.08 L340.38,329.69 L339.5,329.01 L338.5,327.74 L337.5,329.62 L336.75,326.52 L336,324.9 L335,329.14 L334.25,329.02 L333.5,325.51 L332.75,326.66 L332,326.53 L331.25,326.2 L330.5,326.27 L329.62,324.48 L328.75,322.83 L327.9,337.59 L327.13,336.17 L326.36,335.87 L325.59,334.12 L324.81,333.12 L324.04,333.28 L323.27,332.11 L322.5,332.18 L321.7,342.86 L320.86,341.34 L320.01,341.12 L319.17,340.8 L318.33,339 L317.49,337.7 L316.64,336.93 L315.8,335.26 L315.4,342.04 L314.57,341.15 L313.73,339.89 L312.9,338.74 L312.4,348.8 L311.62,346.8 L310.85,345.75 L310.07,345.39 L309.3,343.07 L308.52,341.67 L307.75,341.64 L306.98,338.81 L306.2,338.99 L305.43,336.86 L304.65,336.7 L303.88,334.33 L303.1,334.15 L301.9,351.68 L301.07,350.36 L300.24,350.31 L299.41,349.55 L298.59,347.04 L297.76,347 L296.93,346.28 L296.1,344.85 L295.27,343.04 L294.44,342.04 L293.61,342.3 L292.79,341.22 L291.96,340.21 L291.13,337.91 L290.3,336.45 L289.55,337.62 L288.8,336.87 L288.05,337.91 L287.3,337.97 L286.65,339.47 L286,340.21 L285.2,339.6 L284.4,338.03 L283.6,337.24 L282.8,337.26 L282,335.76 L281.2,335.3 L280.4,334.35 L279.4,341.41 L278.63,342.49 L277.86,340.66 L277.09,340.09 L276.31,339.57 L275.54,339.48 L274.77,338.57 L274,337.39 L273.1,346.57 L272.3,344.84 L271.5,344.52 L270.7,344.31 L269.9,344.23 L269.1,343.71 L268.3,343.17 L267.5,342.52 L266.7,342.4 L265.86,342.65 L265.02,342.46 L264.19,342.32 L263.35,341.66 L262.51,341.87 L261.68,341.1 L260.84,340.54 L260,340.89 L259.17,340.48 L258.33,340.36 L257.5,341.33 L256.67,340.4 L255.83,340.25 L255,340.71 L254.17,340.38 L253.33,339.86 L252.5,340.1 L251.67,339.78 L250.83,339.64 L250,339.97 L249.13,339.64 L248.27,340.09 L247.4,340.61 L246.53,340.54 L245.67,340.08 L244.8,340.58 L244.2,328.56 L243.36,328.82 L242.53,328.86 L241.69,329.3 L240.85,329.66 L240.02,330.08 L239.18,330.12 L238.35,330.92 L237.51,331.02 L236.67,331.52 L235.84,331.79 L235,331.63 L234.6,323.19 L233.73,323.35 L232.87,324.27 L232,324.43 L231.25,316.59 L230.47,318.33 L229.69,318.82 L228.91,320.21 L228.12,321.38 L227.34,322.14 L226.56,323.22 L225.78,324 L225,325.41 L224.22,326.53 L223.44,327.18 L222.66,328.34 L221.88,329.49 L221.09,330.32 L220.31,331.45 L219.53,332.7 L218.75,333.36 L218.3,312.4 L217.47,313.5 L216.65,314.98 L215.82,315.93 L214.99,317.24 L214.16,318.29 L213.34,319.07 L212.51,320.67 L211.68,321.32 L210.85,322.15 L210.03,323.16 L209.2,324.29 L208.75,307.94 L208.04,309.15 L207.32,311.5 L206.61,312.84 L205.9,314.72 L205.4,298.68 L204.7,299.99 L204,301.23 L203.3,302.65 L202.53,303.43 L201.77,303.58 L201,303.77 L200.35,305.36 L199.7,307.18 L199.3,285.5 L198.46,288.1 L197.61,290.22 L196.77,292.7 L195.93,295.12 L195.09,297.25 L194.24,299.84 L193.4,301.96 L192.3,292.37Z" fill="#808080" fill-opacity="0.4" stroke="#808080" stroke-opacity="0.4" stroke-width="1.39" stroke-linejoin="miter"/>
<path d="M192.3,290.4 L192.85,295.21 L193.4,300.12 L193.85,298.62 L194.31,297.51 L194.76,296.1 L195.22,294.8 L195.67,293.73 L196.12,292.26 L196.58,290.95 L197.03,289.74 L197.48,288.49 L197.94,287.07 L198.39,285.85 L198.85,284.38 L199.3,283.2 L199.7,304.6 L200.13,303.46 L200.57,302.35 L201,301.14 L201.46,300.85 L201.92,300.58 L202.38,300.49 L202.84,300.24 L203.3,299.96 L203.72,299.09 L204.14,297.98 L204.56,297.23 L204.98,296.35 L205.4,295.4 L205.9,311.5 L206.38,310.39 L206.85,308.94 L207.32,307.79 L207.8,306.33 L208.28,305.34 L208.75,304.2 L209.2,320.8 L209.66,319.84 L210.11,319.36 L210.56,319.18 L211.02,318.01 L211.47,317.93 L211.93,317.24 L212.38,316.53 L212.84,316.06 L213.29,315.47 L213.75,314.96 L214.21,314.13 L214.66,313.46 L215.12,312.86 L215.57,312.19 L216.03,311.75 L216.48,311.02 L216.94,310.75 L217.39,309.62 L217.84,309.16 L218.3,308.75 L218.75,329.6 L219.2,328.83 L219.64,328.03 L220.09,328.15 L220.54,326.78 L220.98,326.57 L221.43,325.93 L221.88,325.72 L222.32,324.47 L222.77,324.43 L223.21,323.5 L223.66,323.01 L224.11,322.32 L224.55,321.96 L225,321.05 L225.45,320.64 L225.89,320.12 L226.34,319.79 L226.79,318.43 L227.23,318.54 L227.68,317.84 L228.12,316.99 L228.57,316.53 L229.02,315.8 L229.46,315.58 L229.91,314.73 L230.36,314.05 L230.8,313.46 L231.25,312.9 L232,320.5 L232.43,320.25 L232.87,320.03 L233.3,319.69 L233.73,320 L234.17,319.07 L234.6,319.2 L235,328 L235.46,327.16 L235.92,327.6 L236.38,327.4 L236.84,327.31 L237.3,327.01 L237.76,326.83 L238.22,326.73 L238.68,326.65 L239.14,326.21 L239.6,326.03 L240.06,326.26 L240.52,325.82 L240.98,325.35 L241.44,325.76 L241.9,325.29 L242.36,324.85 L242.82,324.56 L243.28,324.63 L243.74,324.24 L244.2,324.2 L244.8,335.8 L245.23,335.52 L245.67,335.42 L246.1,335.54 L246.53,335.84 L246.97,335.46 L247.4,335.19 L247.83,335.59 L248.27,335.41 L248.7,335.53 L249.13,335.56 L249.57,335.21 L250,335.17 L250.45,335.23 L250.91,335.03 L251.36,335.45 L251.82,335.64 L252.27,335.42 L252.73,335.37 L253.18,335.4 L253.64,335.32 L254.09,335.35 L254.55,335.48 L255,335.42 L255.45,335.54 L255.91,335.33 L256.36,335.78 L256.82,335.76 L257.27,335.53 L257.73,335.32 L258.18,335.85 L258.64,336.13 L259.09,335.77 L259.55,335.86 L260,335.88 L260.45,336.25 L260.89,336.03 L261.34,336.55 L261.79,336.39 L262.23,336.77 L262.68,336.69 L263.13,336.74 L263.57,336.59 L264.02,336.87 L264.47,337.08 L264.91,337.39 L265.36,337.41 L265.81,337.32 L266.25,337.68 L266.7,337.91 L267.16,337.9 L267.61,338.06 L268.07,338.3 L268.53,338.79 L268.99,338.96 L269.44,338.87 L269.9,339.38 L270.36,339.42 L270.81,339.59 L271.27,340.25 L271.73,340.39 L272.19,340.29 L272.64,340.69 L273.1,340.9 L274,330.7 L274.45,331.18 L274.9,331.13 L275.35,331.61 L275.8,332.18 L276.25,331.7 L276.7,332.71 L277.15,333.16 L277.6,333.4 L278.05,333.1 L278.5,333.98 L278.95,333.89 L279.4,334.5 L280.4,326 L280.87,326.7 L281.33,327.22 L281.8,327.58 L282.27,327.72 L282.73,328.29 L283.2,329.31 L283.67,329.18 L284.13,330.18 L284.6,330.68 L285.07,330.9 L285.53,332.36 L286,332.03 L286.43,331.67 L286.87,329.07 L287.3,327.89 L287.73,329 L288.16,328.81 L288.59,328.42 L289.01,328.45 L289.44,327.73 L289.87,328.13 L290.3,327.93 L290.75,328.79 L291.19,329.77 L291.64,330.04 L292.08,330.73 L292.53,330.91 L292.98,331.58 L293.42,332.35 L293.87,332.78 L294.32,333.91 L294.76,333.72 L295.21,335.28 L295.65,334.82 L296.1,336.13 L296.55,336.04 L296.99,337.49 L297.44,337.52 L297.88,338.19 L298.33,338.88 L298.78,338.96 L299.22,339.39 L299.67,339.61 L300.12,341.35 L300.56,341.23 L301.01,341.84 L301.45,342.62 L301.9,343.2 L303.1,324.5 L303.54,325.85 L303.99,325.14 L304.43,326.49 L304.87,326.89 L305.31,327.86 L305.76,327.65 L306.2,328.79 L306.64,329.87 L307.09,330.76 L307.53,331.41 L307.97,331.16 L308.41,332.12 L308.86,332.69 L309.3,332.87 L309.74,333.48 L310.19,334.91 L310.63,335.36 L311.07,335.85 L311.51,336.97 L311.96,336.81 L312.4,337.8 L312.9,328.75 L313.32,329.48 L313.73,329.84 L314.15,330.35 L314.57,331.09 L314.98,331.52 L315.4,332 L315.8,324.6 L316.25,325.37 L316.71,326.03 L317.16,327.31 L317.62,327.17 L318.07,328.31 L318.52,328.83 L318.98,329.16 L319.43,330.24 L319.88,330.31 L320.34,331.71 L320.79,331.67 L321.25,332.45 L321.7,333.3 L322.5,321.7 L322.95,322.27 L323.4,322.9 L323.85,323.38 L324.3,323.82 L324.75,323.88 L325.2,324.06 L325.65,325.05 L326.1,325.41 L326.55,325.41 L327,326.55 L327.45,326.72 L327.9,327.1 L328.75,313 L329.19,313.53 L329.62,314.91 L330.06,315.15 L330.5,316.18 L331,316.48 L331.5,315.61 L332,316.01 L332.5,315.18 L333,315.6 L333.5,314.74 L334,316.5 L334.5,317.33 L335,319.18 L335.5,317.49 L336,315.16 L336.5,315.34 L337,317.33 L337.5,318.32 L338,317.61 L338.5,318.01 L339,316.87 L339.5,316.97 L339.94,317.83 L340.38,318.32 L340.81,318.74 L341.25,318.7 L341.7,297.9 L342.15,298.26 L342.61,298.76 L343.06,300.29 L343.52,300.38 L343.98,301.6 L344.43,301.94 L344.88,303.53 L345.34,304.19 L345.8,304.85 L346.25,305.41 L346.7,306.17 L347.16,306.79 L347.62,307.79 L348.07,308.49 L348.52,309.32 L348.98,309.75 L349.44,311.33 L349.89,311.5 L350.35,312.65 L350.8,312.9 L352.1,305.8 L352.51,307.02 L352.93,306.96 L353.34,307.41 L353.75,308.75 L354.6,298.75 L355.02,299.62 L355.43,299.44 L355.85,300.03 L356.27,300.32 L356.68,300.88 L357.1,301.25 L357.9,294 L358.32,294.07 L358.74,294.96 L359.16,295.33 L359.58,295.99 L360,295.66 L360.45,297.69 L360.9,298.41 L361.36,298.57 L361.81,299.82 L362.26,300.99 L362.71,302.1 L363.17,302.77 L363.62,304.16 L364.07,304.57 L364.52,305.1 L364.97,306.11 L365.43,307.52 L365.88,307.92 L366.33,309.34 L366.78,310.3 L367.23,311.04 L367.69,312.09 L368.14,312.56 L368.59,313.51 L369.04,314.2 L369.5,315.09 L369.95,315.64 L370.4,316.9 L370.83,315.18 L371.27,313.52 L371.7,312.55 L372.1,313.29 L372.5,313.63 L372.9,314.87 L373.3,315 L374.2,300 L374.66,300.64 L375.12,300.98 L375.58,300.68 L376.04,300.66 L376.5,301.5 L377.1,292.9 L377.54,293.84 L377.99,294.5 L378.43,295.39 L378.87,296.02 L379.31,297.07 L379.76,297.25 L380.2,298.34 L380.64,298.52 L381.09,298.75 L381.53,300.17 L381.97,301.61 L382.41,301.21 L382.86,302.92 L383.3,303.06 L383.73,301.09 L384.17,299.18 L384.6,297.18 L385,297.1 L385.4,297.85 L385.8,298.31 L386.2,298.8 L386.65,296.08 L387.1,294.76 L387.55,295.78 L387.99,296.85 L388.44,296.39 L388.88,297.83 L389.33,297.99 L389.78,299.69 L390.22,300.65 L390.67,300.92 L391.12,301.66 L391.56,303.19 L392.01,304.24 L392.45,304.62 L392.9,305.8 L393.75,285.8 L394.17,286.42 L394.59,286.32 L395.01,287.69 L395.44,288.71 L395.86,289.43 L396.28,290.66 L396.7,290.39 L397.15,290.86 L397.61,292.71 L398.06,293.21 L398.52,294.4 L398.98,295.43 L399.43,296.27 L399.88,297.44 L400.34,298.29 L400.8,298.08 L401.25,299.53 L401.7,301.15 L402.16,301.15 L402.62,302.52 L403.07,303.03 L403.52,303.77 L403.98,305.37 L404.44,306.05 L404.89,306.46 L405.35,307.75 L405.8,308.3 L406.7,297.1 L407.12,297.24 L407.53,298.07 L407.95,299.27 L408.37,299.58 L408.78,299.8 L409.2,300.96 L409.6,299.07 L410,297.56 L410.5,298.37 L411,298.85 L411.5,299.7 L412,300.8 L412.9,292.9 L413.38,293.27 L413.85,293.65 L414.32,294.68 L414.8,295.15 L415.27,295.48 L415.75,295.55 L416.22,295.74 L416.7,296.58 L417.16,296.54 L417.61,297.17 L418.07,296.9 L418.52,297.76 L418.98,298.85 L419.43,298.38 L419.89,298.63 L420.34,299.52 L420.8,300.6 L421.25,301.17 L421.71,301.16 L422.16,301.76 L422.62,302.54 L423.07,302.89 L423.53,303.89 L423.98,304.41 L424.44,304.63 L424.89,305.6 L425.35,306.36 L425.8,306.79 L426.25,305.02 L426.7,304.08 L427.1,305.55 L427.5,305.88 L427.9,306.95 L428.36,308.1 L428.81,308.65 L429.27,309.26 L429.73,310.86 L430.19,310.8 L430.64,311.72 L431.1,312.56 L431.56,313.3 L432.01,314.34 L432.47,315.45 L432.93,316.58 L433.39,317.11 L433.84,317.7 L434.3,318.05 L434.76,319.29 L435.21,319.79 L435.67,320.91 L436.13,322.11 L436.59,322.64 L437.04,323.31 L437.5,323.93 L437.94,325.44 L438.39,326.74 L438.83,327.62 L439.27,329.02 L439.72,330.77 L440.16,331.1 L440.61,332.79 L441.05,333.78 L441.49,336.01 L441.94,336.92 L442.38,338.14 L442.83,339.34 L443.27,340.55 L443.71,341.81 L444.16,342.38 L444.6,344.29 L445.05,344.61 L445.5,344.6 L445.7,244.2 L446.05,249.91 L446.4,256.11 L446.84,257.09 L447.27,257.79 L447.71,258.93 L448.14,259.96 L448.58,260.93 L449.01,262.06 L449.45,262.82 L449.89,263.97 L450.32,265.03 L450.76,266.11 L451.19,267.01 L451.63,267.96 L452.06,269.1 L452.5,269.7 L452.94,271.05 L453.38,271.76 L453.82,272.52 L454.26,273.56 L454.71,274.24 L455.15,275.11 L455.59,276.29 L456.03,277.11 L456.47,278.28 L456.91,278.9 L457.35,279.72 L457.79,280.68 L458.24,282.12 L458.68,282.69 L459.12,283.46 L459.56,284.28 L460,285.15 L460.45,285.85 L460.91,286.48 L461.36,287.16 L461.82,287.65 L462.27,287.92 L462.73,288.17 L463.18,288.6 L463.64,288.69 L464.09,289.53 L464.55,290.43 L465,290.7 L465.47,291.4 L465.94,291.35 L466.41,292.54 L466.89,292.84 L467.36,293.24 L467.83,293.85 L468.3,293.45 L468.75,294.64 L469.21,295.15 L469.66,296.68 L470.12,296.64 L470.57,297.16 L471.02,298.24 L471.48,298.22 L471.93,299.67 L472.39,299.59 L472.84,300.43 L473.3,300.77 L473.75,301.97 L474.17,299.71 L474.58,299.4 L475,297.63 L475.5,299.07 L476,299.82 L476.5,301.43 L477,302.56 L477.43,301.59 L477.87,300.4 L478.3,299.4 L478.75,300.46 L479.21,300.94 L479.66,301.62 L480.12,302.52 L480.57,304.09 L481.02,304.68 L481.48,306.07 L481.93,306.68 L482.39,307.27 L482.84,308.83 L483.3,310.09 L483.75,310.4 L484.8,300 L485.24,300.78 L485.68,301.38 L486.12,302.25 L486.56,303.64 L487,304.01 L487.45,301.97 L487.9,300.22 L488.32,300.83 L488.75,301.69 L489.18,302.3 L489.6,303.3 L490.7,292.1 L491.14,292.64 L491.58,293.63 L492.02,294.37 L492.46,295.24 L492.9,295.65 L493.33,295.64 L493.77,295.41 L494.2,295.03 L494.66,296.04 L495.11,297.03 L495.57,297.65 L496.02,298.48 L496.48,299.02 L496.93,300.28 L497.39,301.01 L497.84,301.81 L498.3,302.52 L498.76,303.8 L499.21,305.24 L499.67,305.48 L500.12,306.24 L500.58,307.21 L501.03,307.77 L501.49,308.83 L501.94,309.48 L502.4,310.35 L502.86,311.46 L503.31,312.32 L503.77,313.09 L504.22,313.76 L504.68,314.92 L505.13,315.41 L505.59,316.79 L506.04,317.34 L506.5,318.3 L507,318.71 L507.5,318.85 L508,318.55 L508.43,318.53 L508.85,318.4 L509.27,317.71 L509.7,317.7 L510,300 L510.42,300.2 L510.83,301.65 L511.25,302.49 L511.67,303.44 L512.08,304.19 L512.5,305.03 L512.92,304.34 L513.35,303.9 L513.78,302.95 L514.2,302.24 L514.65,302.65 L515.11,303.67 L515.56,303.99 L516.02,304.86 L516.47,304.82 L516.93,306.03 L517.38,306.59 L517.84,307.15 L518.29,308.21 L518.75,308.65 L519.2,309.2 L520,299.6 L520.45,300.4 L520.89,301.14 L521.34,302.52 L521.78,303.09 L522.23,303.9 L522.68,304.42 L523.12,305.7 L523.57,306.37 L524.02,307.02 L524.46,307.89 L524.91,308.39 L525.35,309.71 L525.8,310.4 L526.5,299.6 L526.93,300.03 L527.37,301.09 L527.8,301.49 L528.23,302.11 L528.67,302.97 L529.1,303.59 L529.53,303.99 L529.97,304.85 L530.4,305.64 L530.83,306.13 L531.27,306.58 L531.7,307.45 L532.13,306.92 L532.57,306.59 L533,306.31 L533.48,307.02 L533.95,307.71 L534.42,308.18 L534.9,309.2 L535.6,289.4 L536.05,290.28 L536.5,291.07 L536.95,291.9 L537.4,292.79 L537.85,293.79 L538.3,294.36 L538.75,295.18 L539.2,296.22 L539.65,296.94 L540.1,297.96 L540.55,298.61 L541,299.5 L541.45,300.45 L541.9,301.3 L542.35,302.11 L542.8,302.96 L543.25,303.75 L543.7,304.57 L544.15,305.44 L544.6,306.4 L545.01,305.22 L545.42,304.03 L545.84,302.91 L546.25,301.82 L546.67,302.26 L547.08,302.57 L547.5,302.99 L548,303.53 L548.5,304 L548.9,286.3 L549.4,287.64 L549.9,288.59 L550.4,289.8 L550.9,290.18 L551.4,290.97 L551.9,291.5 L552.2,279.7 L552.66,280.32 L553.12,281.08 L553.58,281.86 L554.04,282.63 L554.49,283.39 L554.95,284.14 L555.41,284.86 L555.87,285.55 L556.33,286.52 L556.79,287.08 L557.25,287.84 L557.71,288.68 L558.16,289.34 L558.62,290.04 L559.08,290.76 L559.54,291.61 L560,292.11 L560.45,293.09 L560.89,294.15 L561.34,294.95 L561.79,296.02 L562.23,297.14 L562.68,297.98 L563.13,299 L563.57,300.01 L564.02,300.84 L564.47,301.92 L564.91,302.82 L565.36,303.75 L565.81,304.79 L566.25,305.78 L566.7,306.72 L567.15,307.44 L567.61,308.3 L568.06,309.06 L568.52,309.75 L568.97,310.44 L569.43,311.1 L569.88,311.86 L570.34,312.57 L570.79,313.41 L571.25,314.21 L571.7,314.95 L572.15,315.61 L572.61,316.32 L573.06,317.11 L573.52,317.84 L573.97,318.62 L574.43,319.42 L574.88,319.99 L575.34,320.95 L575.79,321.36 L576.25,322.12 L576.7,323 L577.9,308.4 L578.35,308.73 L578.8,309.22 L579.25,309.73 L579.7,310.36 L580.15,310.59 L580.6,311.19 L581.05,311.52 L581.5,312.01 L581.95,312.37 L582.4,313.08 L582.85,313.35 L583.3,313.75 L583.75,314.43 L584.17,312.18 L584.58,310.12 L585,307.99 L585.42,309.18 L585.85,310.39 L586.28,311.74 L586.7,313 L587.9,288.8 L588.36,289.6 L588.82,290.17 L589.28,290.8 L589.74,291.56 L590.2,292.08 L590.66,292.93 L591.12,293.49 L591.58,294.09 L592.04,294.88 L592.5,295.54 L592.96,296.14 L593.42,296.86 L593.88,297.59 L594.34,298.29 L594.8,298.78 L595.26,299.31 L595.72,300.35 L596.18,300.84 L596.64,301.5 L597.1,302.2 L597.9,294.25 L598.35,295.15 L598.8,295.96 L599.25,296.95 L599.7,297.63 L600.15,298.59 L600.6,299.38 L601.05,300.47 L601.5,301.2 L601.95,302.17 L602.4,303.07 L602.85,303.73 L603.3,304.7 L604.2,296.3 L604.66,296.7 L605.11,297.2 L605.57,297.57 L606.02,297.98 L606.48,298.48 L606.93,298.91 L607.39,299.21 L607.84,299.67 L608.3,300.15 L608.76,300.99 L609.22,301.85 L609.68,302.62 L610.14,303.72 L610.6,304.43 L611.06,305.34 L611.52,306.19 L611.98,307.07 L612.44,307.94 L612.9,308.73 L613.33,307.6 L613.77,306.43 L614.2,305.13 L614.65,305.85 L615.09,306.52 L615.54,307.17 L615.98,308 L616.43,308.49 L616.88,309.26 L617.32,310 L617.77,310.63 L618.22,311.21 L618.66,311.9 L619.11,312.8 L619.55,313.29 L620,314.05 L620.45,314.78 L620.89,315.43 L621.34,315.97 L621.78,316.65 L622.23,317.48 L622.68,318.12 L623.12,318.85 L623.57,319.56 L624.02,320.26 L624.46,320.83 L624.91,321.49 L625.35,322.39 L625.8,323 L627.1,280 L627.55,280.6 L628,281.2 L628.44,281.79 L628.89,282.64 L629.34,283.14 L629.79,283.81 L630.24,284.59 L630.69,285.21 L631.13,285.88 L631.58,286.38 L632.03,286.9 L632.48,287.7 L632.93,288.4 L633.37,289.02 L633.82,289.79 L634.27,290.4 L634.72,290.94 L635.17,291.71 L635.61,292.3 L636.06,292.92 L636.51,293.7 L636.96,294.13 L637.41,294.99 L637.86,295.64 L638.3,296.04 L638.75,296.84 L639.2,297.49 L639.6,296.84 L640,296.32 L640.4,295.74 L640.85,296.43 L641.3,297.01 L641.75,297.5 L642.2,298.4 L642.65,299 L643.1,299.48 L643.55,300.24 L644,300.96 L644.45,301.3 L644.9,302.02 L645.35,302.63 L645.8,303.3 L646.5,291.7 L646.97,292.68 L647.43,293.54 L647.9,294.39 L648.37,295.53 L648.83,296.34 L649.3,297.36 L649.77,298.42 L650.23,299.11 L650.7,300.07 L651.17,301.11 L651.63,301.96 L652.1,302.9 L653.3,283.75 L653.77,284.49 L654.23,285.14 L654.7,286.06 L655.17,286.58 L655.63,287.25 L656.1,287.93 L656.57,288.64 L657.03,289.18 L657.5,289.98 L657.95,290.76 L658.4,291.3 L658.85,292.09 L659.3,292.78 L659.75,293.44 L660.2,294.37 L660.65,294.93 L661.1,295.59 L661.55,296.2 L662,296.97 L662.45,297.63 L662.9,298.34 L663.35,299.06 L663.8,299.94 L664.25,300.54 L664.7,301.27 L665.15,301.94 L665.6,302.75 L666.05,303.17 L666.5,303.81 L666.95,304.63 L667.4,305.33 L667.85,306.01 L668.3,306.7 L669,297.1 L669.47,297.85 L669.93,298.76 L670.4,299.64 L670.87,300.32 L671.33,301.08 L671.8,302 L672.27,302.68 L672.73,303.47 L673.2,304.33 L673.67,304.92 L674.13,306.05 L674.6,306.7 L675.4,298.3 L675.87,298.71 L676.33,299.19 L676.8,299.59 L677.27,300.02 L677.73,300.3 L678.2,300.98 L678.67,301.3 L679.13,301.7 L679.6,302.35 L680.06,302.67 L680.52,303.5 L680.98,304.11 L681.44,304.67 L681.91,305.62 L682.37,306.01 L682.83,306.82 L683.29,307.47 L683.75,308.17 L684.21,308.75 L684.67,309.6 L685.13,310.19 L685.59,310.74 L686.06,311.41 L686.52,312.21 L686.98,312.76 L687.44,313.56 L687.9,314.2 L688.5,283.3 L688.95,283.86 L689.4,284.12 L689.85,284.26 L690.3,284.9 L690.75,285.79 L691.2,286.05 L691.65,287.12 L692.1,287.03 L692.55,287.72 L693,288.27 L693.45,288.6 L693.9,289.14 L694.35,289.79 L694.8,289.99 L695.25,290.59 L695.7,290.89 L696.15,291.96 L696.6,291.98 L697.05,292.63 L697.5,292.16 L697.9,291.33 L698.3,289.72 L698.75,290.47 L699.21,290.8 L699.66,291.11 L700.12,291.75 L700.57,292.48 L701.03,292.99 L701.48,293.05 L701.94,293.9 L702.39,293.94 L702.85,294.7 L703.3,294.79 L703.72,295.56 L704.15,296.18 L704.58,295.83 L705,296.5 L705.45,296.38 L705.91,297.12 L706.36,298.47 L706.82,298.33 L707.27,299.01 L707.73,299.02 L708.18,299.95 L708.64,300.3 L709.09,301.33 L709.55,301.43 L710,302.73 L710.42,301.55 L710.83,301.62 L711.25,300.76 L711.7,301.71 L712.16,302.66 L712.61,302.89 L713.07,303.15 L713.52,304.14 L713.98,304.81 L714.43,305.24 L714.88,305.93 L715.34,305.89 L715.79,307.24 L716.25,307.52 L716.7,307.9 L717.5,273.3 L717.95,273.03 L718.4,274.95 L718.85,274.59 L719.31,275.43 L719.76,275.02 L720.21,275.99 L720.66,276.04 L721.11,277.49 L721.56,277.59 L722.01,277.83 L722.47,278.51 L722.92,279.53 L723.37,279.33 L723.82,280.31 L724.27,280.16 L724.72,280.47 L725.17,281.38 L725.63,281.94 L726.08,282.59 L726.53,283.35 L726.98,283.35 L727.43,283.86 L727.88,284.75 L728.33,285.11 L728.79,285.42 L729.24,286.01 L729.69,285.63 L730.14,286.7 L730.59,286.81 L731.04,287.75 L731.49,288.68 L731.95,288.24 L732.4,289.66 L732.85,289.61 L733.3,290.3 L733.75,262.9 L734.21,263.4 L734.67,263.88 L735.13,264.87 L735.59,264.94 L736.05,265.01 L736.51,266.44 L736.97,266.84 L737.43,267.7 L737.89,268.26 L738.36,268.18 L738.82,269.26 L739.28,269.8 L739.74,270.3 L740.2,270.93 L740.66,271.58 L741.12,271.84 L741.58,272.55 L742.04,273.53 L742.5,273.75 L743.3,253.75 L743.75,253.94 L744.21,254.88 L744.66,255.12 L745.12,255.68 L745.57,256.48 L746.02,257.28 L746.48,258.34 L746.93,258.29 L747.38,259.28 L747.84,259.71 L748.29,260.12 L748.75,259.58 L749.2,261.25 L750,249.2 L750.45,249.82 L750.9,250.37 L751.34,250.58 L751.79,251.55 L752.24,252.58 L752.69,252.28 L753.14,253.07 L753.58,254.12 L754.03,253.79 L754.48,254.62 L754.93,255.64 L755.38,256.44 L755.83,257.1 L756.27,257.53 L756.72,258.62 L757.17,258.56 L757.62,258.58 L758.07,259.52 L758.51,260.37 L758.96,260.86 L759.41,260.68 L759.86,262.02 L760.31,262.21 L760.75,262.98 L761.2,264.1 L761.65,264.15 L762.1,264.56 L762.55,265.31 L762.99,265.72 L763.44,267.17 L763.89,267.35 L764.34,267.96 L764.79,268.02 L765.23,268.61 L765.68,269.48 L766.13,269.26 L766.58,270.88 L767.03,270.71 L767.47,271.73 L767.92,272.39 L768.37,272.6 L768.82,273.54 L769.27,274.23 L769.72,275.19 L770.16,275.29 L770.61,276.32 L771.06,276.46 L771.51,276.83 L771.96,277.74 L772.4,277.88 L772.85,278.67 L773.3,279.4 L773.75,280.08 L774.19,280.33 L774.64,280.3 L775.09,281.69 L775.53,281.85 L775.98,282.23 L776.43,282.59 L776.87,283.54 L777.32,283.98 L777.77,284.61 L778.21,284.88 L778.66,285.92 L779.11,285.88 L779.55,286.61 L780,287.06 L780.45,287.87 L780.89,287.86 L781.34,288.52 L781.79,289.08 L782.23,289.47 L782.68,290.01 L783.12,290.38 L783.57,291.52 L784.02,292.28 L784.46,292.06 L784.91,293.13 L785.36,293.08 L785.8,293.72 L786.25,294.4 L786.7,295.07 L787.14,295.71 L787.59,295.52 L788.04,296.24 L788.48,297.2 L788.93,297.64 L789.38,298.89 L789.82,298.7 L790.27,299.12 L790.71,300.22 L791.16,299.59 L791.61,300.37 L792.05,302.28 L792.5,301.81 L792.96,302.71 L793.42,303.33 L793.88,303.82 L794.34,304.73 L794.81,305.08 L795.27,306.45 L795.73,307.09 L796.19,307.76 L796.65,307.98 L797.11,308.37 L797.57,309.49 L798.03,310.01 L798.49,311.14 L798.96,311.25 L799.42,312.14 L799.88,313.15 L800.34,313.93 L800.8,314.5 L801.7,253 L802.17,253.5 L802.64,253.49 L803.11,254.17 L803.59,255.6 L804.06,255.69 L804.53,255.53 L805,256.98 L805.47,257.08 L805.93,257.96 L806.4,258.5 L806.87,260.17 L807.33,260.5 L807.8,261.27 L808.27,261.8 L808.73,262.5 L809.2,263.86 L809.62,264.63 L810.03,266.02 L810.45,265.97 L810.87,267 L811.28,268.32 L811.7,269.09 L812.16,268.99 L812.61,270.19 L813.07,270.27 L813.52,270.86 L813.98,271.1 L814.43,271.76 L814.88,271.69 L815.34,272.2 L815.79,273.1 L816.25,273.29 L816.71,273.71 L817.16,274.43 L817.62,274.54 L818.07,275.03 L818.52,274.53 L818.98,275.57 L819.43,276.49 L819.89,276.31 L820.34,276.96 L820.8,277.58 L821.26,277.99 L821.72,278.89 L822.18,279.29 L822.64,279.6 L823.1,280.59 L823.56,280.61 L824.02,281.02 L824.48,281.93 L824.94,282.58 L825.4,282.85 L825.86,283.05 L826.32,283.79 L826.78,284.6 L827.24,285.3 L827.7,286.23 L828.16,286.08 L828.62,286.6 L829.08,286.45 L829.54,288.22 L830,288.63 L830.44,288.88 L830.89,289.19 L831.33,289.09 L831.77,290.86 L832.22,290.89 L832.66,292.29 L833.11,292.6 L833.55,293.36 L833.99,293.42 L834.44,294.48 L834.88,294.12 L835.33,295.72 L835.77,295.76 L836.21,295.92 L836.66,296.78 L837.1,297.15 L837.54,298.17 L837.99,298.39 L838.43,298.77 L838.88,299.67 L839.32,300.29 L839.76,301.02 L840.21,301.77 L840.65,302.55 L841.09,302.82 L841.54,303.84 L841.98,302.93 L842.43,304.37 L842.87,305.31 L843.31,305.08 L843.76,306.05 L844.2,306.78 L844.65,306.82 L845.11,307.86 L845.56,308.96 L846.02,309.31 L846.47,310.66 L846.93,311.64 L847.38,311.45 L847.84,311.74 L848.29,312.82 L848.75,313.31 L849.2,313.69 L849.64,314.62 L850.09,315.17 L850.53,315.78 L850.98,316.8 L851.42,317.43 L851.86,317.76 L852.31,318.05 L852.75,318.9 L853.19,319.33 L853.64,319.97 L854.08,320.11 L854.52,319.92 L854.97,321.91 L855.41,321.95 L855.86,322.55 L856.3,323.3 L856.7,308.75 L857.16,309.35 L857.61,309.93 L858.07,310.45 L858.52,311.71 L858.98,311.81 L859.43,312.45 L859.88,312.65 L860.34,313.53 L860.79,314.34 L861.25,314.75 L861.71,315.49 L862.16,315.64 L862.62,316.72 L863.07,316.82 L863.52,317.63 L863.98,318.11 L864.43,319.06 L864.89,319.99 L865.34,320.3 L865.8,320.8 L866.5,297.9 L866.95,298.28 L867.41,299.34 L867.86,300.36 L868.31,300.94 L868.77,301.56 L869.22,301.67 L869.68,302.57 L870.13,303.23 L870.58,304 L871.04,304.95 L871.49,305.57 L871.94,306.13 L872.4,307.15 L872.85,307.39 L873.31,308.23 L873.76,309.08 L874.21,309.25 L874.67,310.13 L875.12,310.63 L875.57,311.45 L876.03,312.47 L876.48,313.17 L876.94,314.04 L877.39,314.73 L877.84,314.9 L878.3,316.67 L878.75,316.7 L879.3,282.5 L879.74,283.59 L880.18,283.28 L880.62,284.08 L881.05,284.76 L881.49,285.61 L881.93,286.36 L882.37,286.75 L882.81,286.44 L883.25,289 L883.68,288.88 L884.12,289.48 L884.56,289.52 L885,290.43 L885.46,291.5 L885.92,291.76 L886.38,293.11 L886.84,293.5 L887.31,294.8 L887.77,295.02 L888.23,296.3 L888.69,295.96 L889.15,297.82 L889.61,298.23 L890.07,298.7 L890.53,299.98 L890.99,300.27 L891.46,301.43 L891.92,302.24 L892.38,303.04 L892.84,304.22 L893.3,304.69 L893.77,305.92 L894.25,306.1 L894.73,306.73 L895.2,307.5 L895.5,296 L895.94,297.69 L896.39,299.09 L896.83,300.21 L897.27,302.25 L897.71,303.32 L898.16,305.2 L898.6,306.74 L899.04,308.2 L899.49,309.57 L899.93,311.54 L900.37,313.04 L900.81,315.09 L901.26,316.37 L901.7,317.7 L902.1,275.4 L902.54,276.31 L902.98,276.39 L903.42,277.02 L903.86,277.26 L904.29,277.98 L904.73,279.12 L905.17,279.37 L905.61,279.97 L906.05,280.4 L906.49,281.73 L906.93,281.73 L907.37,282.74 L907.81,282.9 L908.24,283.83 L908.68,283.72 L909.12,284.16 L909.56,285.62 L910,285.69 L910.42,287.13 L910.83,288.58 L911.25,289.75 L911.66,288.57 L912.08,287.02 L912.49,286.17 L912.9,285.41 L913.34,286.37 L913.79,287.07 L914.23,287.76 L914.67,288.1 L915.12,289.12 L915.56,290.21 L916.01,290.3 L916.45,291.14 L916.89,292.42 L917.34,293.4 L917.78,293.73 L918.23,294.33 L918.67,294.73 L919.11,295.77 L919.56,296.27 L920,297.35 L920.44,298.3 L920.89,298.95 L921.33,300 L921.77,299.91 L922.22,300.57 L922.66,302.25 L923.11,302.88 L923.55,302.9 L923.99,304.04 L924.44,304.35 L924.88,305.47 L925.33,306.34 L925.77,307.31 L926.21,307.37 L926.66,308 L927.1,309.4 L927.52,307.75 L927.93,307.05 L928.35,304.82 L928.77,303.67 L929.18,301.6 L929.6,301.65 L930.05,302.56 L930.49,303.07 L930.94,303.65 L931.39,303.87 L931.83,304.94 L932.28,306.08 L932.73,307.78 L933.17,308.26 L933.62,308.56 L934.07,309.76 L934.52,310.64 L934.96,311.46 L935.41,311.79 L935.86,312.8 L936.3,314.15 L936.75,314.87 L937.2,315.34 L937.64,317.17 L938.09,317.23 L938.54,317.82 L938.98,319.13 L939.43,319.93 L939.88,320.43 L940.33,321.96 L940.77,322.53 L941.22,322.99 L941.67,324.07 L942.11,324.9 L942.56,325.39 L943.01,326.59 L943.45,326.98 L943.9,328 L944.3,282.5 L944.74,283.04 L945.19,283.99 L945.63,283.93 L946.07,284.88 L946.51,285.28 L946.96,286.51 L947.4,286.67 L947.84,288.16 L948.29,288.68 L948.73,288.51 L949.17,289.43 L949.61,289.88 L950.06,290.62 L950.5,291.49 L950.94,292.41 L951.39,293.28 L951.83,293.79 L952.27,293.3 L952.71,294.21 L953.16,294.94 L953.6,295.52 L954.04,296.3 L954.49,297.11 L954.93,297.34 L955.37,297.92 L955.81,299.59 L956.26,299.62 L956.7,300 L957.3,287.1 L957.77,288.74 L958.23,288.63 L958.7,290.19 L959.17,291.17 L959.63,291.91 L960.1,292.03 L960.57,293.36 L961.03,293.76 L961.5,294.5 L961.97,295.77 L962.43,296.82 L962.9,297.5 L963.75,280.8 L964.2,281.46 L964.65,282.24 L965.1,283.24 L965.55,283.51 L966,284.64 L966.45,285.5 L966.9,286.19 L967.35,286.89 L967.8,287.07 L968.25,288.06 L968.7,288.75 L969.15,289.89 L969.6,289.75 L970.05,291.16 L970.5,291.27 L970.95,292.81 L971.4,293.13 L971.85,294.07 L972.3,295.12 L972.75,296.13 L973.2,295.91 L973.65,297.04 L974.1,297.03 L974.55,298.4 L975,298.96 L975.45,300.23 L975.89,300.75 L976.34,301.62 L976.78,301.97 L977.23,303.05 L977.68,303.56 L978.12,304.76 L978.57,304.98 L979.02,306.43 L979.46,307.52 L979.91,308.85 L980.35,309.25 L980.8,309.98 L981.24,310.79 L981.68,312.07 L982.12,312.49 L982.57,313.64 L983.01,313.83 L983.45,315.33 L983.89,316.92 L984.33,316.89 L984.77,318.62 L985.22,319.48 L985.66,320.38 L986.1,321.62 L986.54,322.51 L986.98,323.11 L987.42,324.48 L987.87,324.86 L988.31,327.04 L988.75,327.5 L989.2,299.2 L989.66,299.8 L990.11,300.73 L990.57,300.69 L991.02,302.27 L991.48,302.58 L991.93,302.94 L992.38,303.5 L992.84,304.16 L993.29,304.37 L993.75,305.18 L994.21,305.75 L994.66,306.57 L995.12,307.59 L995.57,308.05 L996.02,308.34 L996.48,309.07 L996.93,309.35 L997.39,309.88 L997.84,310.08 L998.3,311.25 L999,297.1 L999.43,296.93 L999.87,297.24 L1000.3,297.91 L1000.73,298.15 L1001.17,298.65 L1001.6,299.18 L1002.03,299.29 L1002.47,299.27 L1002.9,299.44 L1003.32,301.1 L1003.73,303.02 L1004.15,304.08 L1004.57,305.47 L1004.98,307.53 L1005.4,309.58 L1005.85,310.35 L1006.3,310.85 L1006.75,310.66 L1007.2,312.01 L1007.65,313.03 L1008.1,313.88 L1008.55,314.86 L1009,314.58 L1009.45,315.76 L1009.9,315.79 L1010.35,316.99 L1010.8,317.64 L1011.25,318.78 L1011.7,319.26 L1012.1,315.63 L1012.5,313.26 L1012.92,314.42 L1013.33,315.79 L1013.75,316 L1014.17,316.93 L1014.58,318.01 L1015,319.57 L1015.45,320.16 L1015.89,321.34 L1016.34,322.52 L1016.79,323.12 L1017.23,324.86 L1017.68,324.94 L1018.13,327.23 L1018.57,327.39 L1019.02,328.36 L1019.47,329.47 L1019.91,330.37 L1020.36,331.53 L1020.81,332.61 L1021.25,333.53 L1021.7,334.94 L1022.17,335.71 L1022.64,336 L1023.11,336.87 L1023.59,337.1 L1024.06,338.08 L1024.53,338.49 L1025,338.81 L1025.45,340.22 L1025.89,341.1 L1026.34,341.9 L1026.79,343.1 L1027.23,344.28 L1027.68,344.63 L1028.12,345.87 L1028.57,347.25 L1029.02,348.01 L1029.46,349.27 L1029.91,350.82 L1030.36,350.5 L1030.8,352.05 L1031.25,352.9 L1031.7,265.6 L1032.14,266.6 L1032.58,268.37 L1033.02,269.19 L1033.46,269.61 L1033.9,271.62 L1034.34,272.36 L1034.78,273.38 L1035.22,274.62 L1035.66,275.82 L1036.1,276.56 L1036.54,277.86 L1036.98,279.61 L1037.42,279.88 L1037.86,281.16 L1038.3,282.5" stroke="#000" stroke-width="2.65" stroke-linecap="square"/>
<path d="M192.2,297.1 L192.9,308.3 L199.2,290 L199.6,313.3 L203,309 L204.5,307 L205.5,302.7 L205.8,318.75 L208.75,310.8 L209.2,328.3 L218.3,314.6 L218.75,336.25 L231.7,318.75 L232.1,327 L234.6,323.3 L235,333.3 L244.3,327.1 L244.8,341.25 L250,340 L260,340.7 L266.7,343 L273.3,347.7 L274.2,335 L279.8,340.2 L280.5,330.3 L286.2,338.3 L287.3,334 L290,335.3 L302.6,352.7 L303.2,330.7 L312.4,346.3 L312.9,337.5 L315.4,342.5 L315.8,332.9 L321.7,344.2 L322.5,330.8 L328.3,340 L328.9,320.8 L334.6,330 L335.8,325 L337.9,329.6 L338.75,326.25 L341.7,331.7 L342.1,305.8 L350.8,323.3 L352.1,315 L354.2,321.7 L354.8,305.8 L357.5,312.9 L358.2,302.9 L360,306.7 L370.4,330.4 L371.7,326 L374,331.25 L374.2,315 L376.7,320.4 L377.3,302.5 L383.75,315.8 L384.6,309.2 L386.25,313.75 L387.3,305 L393.3,320 L393.75,299.2 L406.25,324.2 L406.8,311.25 L409.2,316.7 L410,310.8 L412.1,316.25 L413.3,309.6 L416.7,315.8 L417.9,313.8 L419.6,320.8 L420.4,315.8 L421.7,318.3 L425,326.7 L426.7,320.8 L428.3,327.5 L432.5,334.2 L445.3,364.2 L445.6,251.25 L448.3,270 L453.3,284.2 L458.3,292.9 L464.2,302.1 L467.5,307.5 L468.3,305 L473.75,314.2 L475,309.2 L477,314.6 L478.3,311.7 L484.4,323 L484.8,314.9 L486.7,321 L487.9,312.9 L490.2,320 L490.8,304.5 L499.2,319.8 L505.3,331.3 L506.7,332.7 L508,330.9 L509.8,334.5 L510.3,312.5 L512,317.5 L513.5,318 L514.7,315.3 L519.5,325.7 L519.9,310.7 L526.1,321.7 L526.5,312.3 L533.3,320.7 L535.6,326.5 L535.8,298 L545.4,314.7 L546.7,307.2 L548.75,310 L549,291.75 L551.7,296.75 L552.3,288 L565.8,313 L577.7,333 L578.2,318.8 L584.6,325.5 L585,318.8 L587.5,323.4 L588.1,293.8 L597.1,308 L598.1,294.7 L603.5,308.8 L604.4,300.5 L613.3,315.5 L614.4,311.5 L626.6,330.3 L627.2,278 L639.3,296.2 L640.5,294.5 L645.9,302 L646.6,290.4 L652.2,301.6 L653.4,282.4 L657.6,288.7 L668.4,305.4 L669.1,295.8 L674.7,305.4 L675.5,297 L679.7,300.8 L688,312.9 L688.5,275.4 L697.5,285.8 L698.3,280.8 L704.2,289.2 L705.4,287.5 L710.4,296.7 L711.7,295 L716.7,301.25 L717.5,262.1 L732.9,278.7 L733.75,248.75 L742.5,260 L743.3,240.8 L749.2,248.75 L750,238.75 L763.3,257.5 L776.7,273.3 L782.5,279.2 L792.5,292 L800.8,304.9 L801.7,235.1 L806.7,240.5 L811.7,249.7 L818.3,256.3 L825,266.3 L834.2,277.2 L840.8,286.7 L846.7,295.8 L855.8,305.8 L856.8,295 L865.8,310 L866.7,286.25 L878.75,305 L879.5,267.2 L886.7,276.7 L894.2,291.7 L895.2,292.5 L895.5,287.5 L901.25,304.2 L902.1,252.5 L910.8,269.2 L912.1,265.4 L926.7,288.3 L928.3,283.3 L943.3,307.9 L944.2,249.2 L956.7,271.7 L957.5,255.8 L963.3,266.7 L963.75,252.5 L975,272.5 L988.3,297.5 L989.2,270.4 L997.9,290.4 L998.75,270 L1011.7,291.7 L1012.5,290 L1019.2,304.2 L1030.8,331.7 L1031.7,228.4 L1038.3,241.7" stroke="#f00" stroke-opacity="0.6" stroke-width="2.35" stroke-linecap="square"/>
</g>
<path d="M192.5,534.5v4.86M361.5,534.5v4.86M531.5,534.5v4.86M700.5,534.5v4.86M869.5,534.5v4.86M1038.5,534.5v4.86M150.5,118.5h-4.86M150.5,211.5h-4.86M150.5,303.5h-4.86M150.5,395.5h-4.86M150.5,488.5h-4.86" stroke="#000" stroke-width="1.11" fill="none"/>
<rect x="150.5" y="72.5" width="930" height="462" fill="none" stroke="#000" stroke-width="1.11"/>
<text x="238.75" y="63.8" font-size="17.2" textLength="97.11" lengthAdjust="spacingAndGlyphs">2025-04-04</text>
<text x="341.75" y="63.8" font-size="17.2" textLength="6.46" lengthAdjust="spacingAndGlyphs">-</text>
<text x="352.31" y="63.8" font-size="17.2" textLength="28.81" lengthAdjust="spacingAndGlyphs">Cor</text>
<text x="386.46" y="63.8" font-size="17.2" textLength="32.12" lengthAdjust="spacingAndGlyphs">211</text>
<text x="423.74" y="63.8" font-size="17.2" textLength="6.32" lengthAdjust="spacingAndGlyphs">-</text>
<text x="434.62" y="63.8" font-size="17.2" textLength="66.87" lengthAdjust="spacingAndGlyphs">LWA142</text>
<text x="507.26" y="63.8" font-size="17.2" textLength="6.46" lengthAdjust="spacingAndGlyphs">-</text>
<text x="517.99" y="63.8" font-size="17.2" textLength="25.38" lengthAdjust="spacingAndGlyphs">Pol</text>
<text x="547.57" y="63.8" font-size="17.2" textLength="20.93" lengthAdjust="spacingAndGlyphs">YY</text>
<text x="573.9" y="63.8" font-size="17.2" textLength="6.32" lengthAdjust="spacingAndGlyphs">-</text>
<text x="584.25" y="63.8" font-size="17.2" textLength="95.71" lengthAdjust="spacingAndGlyphs">Normalized</text>
<text x="684.81" y="63.8" font-size="17.2" textLength="81.59" lengthAdjust="spacingAndGlyphs">Spectrum</text>
<text x="771.28" y="63.8" font-size="17.2" textLength="67.05" lengthAdjust="spacingAndGlyphs">(Median</text>
<text x="843.41" y="63.8" font-size="17.2" textLength="101.87" lengthAdjust="spacingAndGlyphs">power=17.4</text>
<text x="951.2" y="63.8" font-size="17.2" textLength="40.08" lengthAdjust="spacingAndGlyphs">CPU)</text>
<text x="183.19" y="554.85" font-size="14.3" textLength="16.74" lengthAdjust="spacingAndGlyphs">30</text>
<text x="353.06" y="554.85" font-size="14.3" textLength="17.05" lengthAdjust="spacingAndGlyphs">40</text>
<text x="521.9" y="554.85" font-size="14.3" textLength="17.16" lengthAdjust="spacingAndGlyphs">50</text>
<text x="690.93" y="554.85" font-size="14.3" textLength="17.37" lengthAdjust="spacingAndGlyphs">60</text>
<text x="859.68" y="554.85" font-size="14.3" textLength="17.54" lengthAdjust="spacingAndGlyphs">70</text>
<text x="1028.98" y="554.85" font-size="14.3" textLength="17.09" lengthAdjust="spacingAndGlyphs">80</text>
<text x="118.9" y="123.75" font-size="14.3" textLength="21.14" lengthAdjust="spacingAndGlyphs">1.4</text>
<text x="118.88" y="215.85" font-size="14.3" textLength="21.25" lengthAdjust="spacingAndGlyphs">1.2</text>
<text x="118.88" y="307.85" font-size="14.3" textLength="21.23" lengthAdjust="spacingAndGlyphs">1.0</text>
<text x="118.7" y="400.75" font-size="14.3" textLength="21.37" lengthAdjust="spacingAndGlyphs">0.8</text>
<text x="118.69" y="492.85" font-size="14.3" textLength="21.53" lengthAdjust="spacingAndGlyphs">0.6</text>
<text x="556.39" y="573.6" font-size="14.3" textLength="71.65" lengthAdjust="spacingAndGlyphs">Frequency</text>
<text x="633.02" y="573.6" font-size="14.3" textLength="41.15" lengthAdjust="spacingAndGlyphs">(MHz)</text>
<g transform="translate(108.85,365.67) rotate(-90)">
<text x="-1.14" y="0" font-size="14.3" textLength="78.56" lengthAdjust="spacingAndGlyphs">Normalized</text>
<text x="82.48" y="0" font-size="14.3" textLength="42.5" lengthAdjust="spacingAndGlyphs">Power</text>
</g>
<rect x="901.5" y="79.5" width="172" height="66.9" rx="2.8" ry="2.8" fill="#fff" fill-opacity="0.8" stroke="#ccc" stroke-opacity="0.8" stroke-width="1.11"/>
<path d="M906.1,91H934.3" stroke="#000" stroke-width="2" stroke-linecap="square"/>
<path d="M906.1,112H934.3" stroke="#f00" stroke-opacity="0.6" stroke-width="2" stroke-linecap="square"/>
<rect x="906.4" y="128.3" width="28.2" height="9.3" fill="#808080" fill-opacity="0.4" stroke="#808080" stroke-opacity="0.4" stroke-width="1.39"/>
<text x="944.44" y="94.8" font-size="14.3" textLength="51.73" lengthAdjust="spacingAndGlyphs">Median</text>
<text x="999.51" y="94.8" font-size="14.3" textLength="68.14" lengthAdjust="spacingAndGlyphs">Spectrum</text>
<text x="944.35" y="115.8" font-size="14.3" textLength="70.59" lengthAdjust="spacingAndGlyphs">Reference</text>
<text x="1019.03" y="115.8" font-size="14.3" textLength="32.68" lengthAdjust="spacingAndGlyphs">spec</text>
<text x="944.44" y="136.8" font-size="14.3" textLength="51.73" lengthAdjust="spacingAndGlyphs">Median</text>
<text x="1000.39" y="136.8" font-size="14.3" textLength="30.48" lengthAdjust="spacingAndGlyphs">Abs.</text>
<text x="1034.24" y="136.8" font-size="14.3" textLength="31.49" lengthAdjust="spacingAndGlyphs">Dev.</text>
</svg></body></html>
